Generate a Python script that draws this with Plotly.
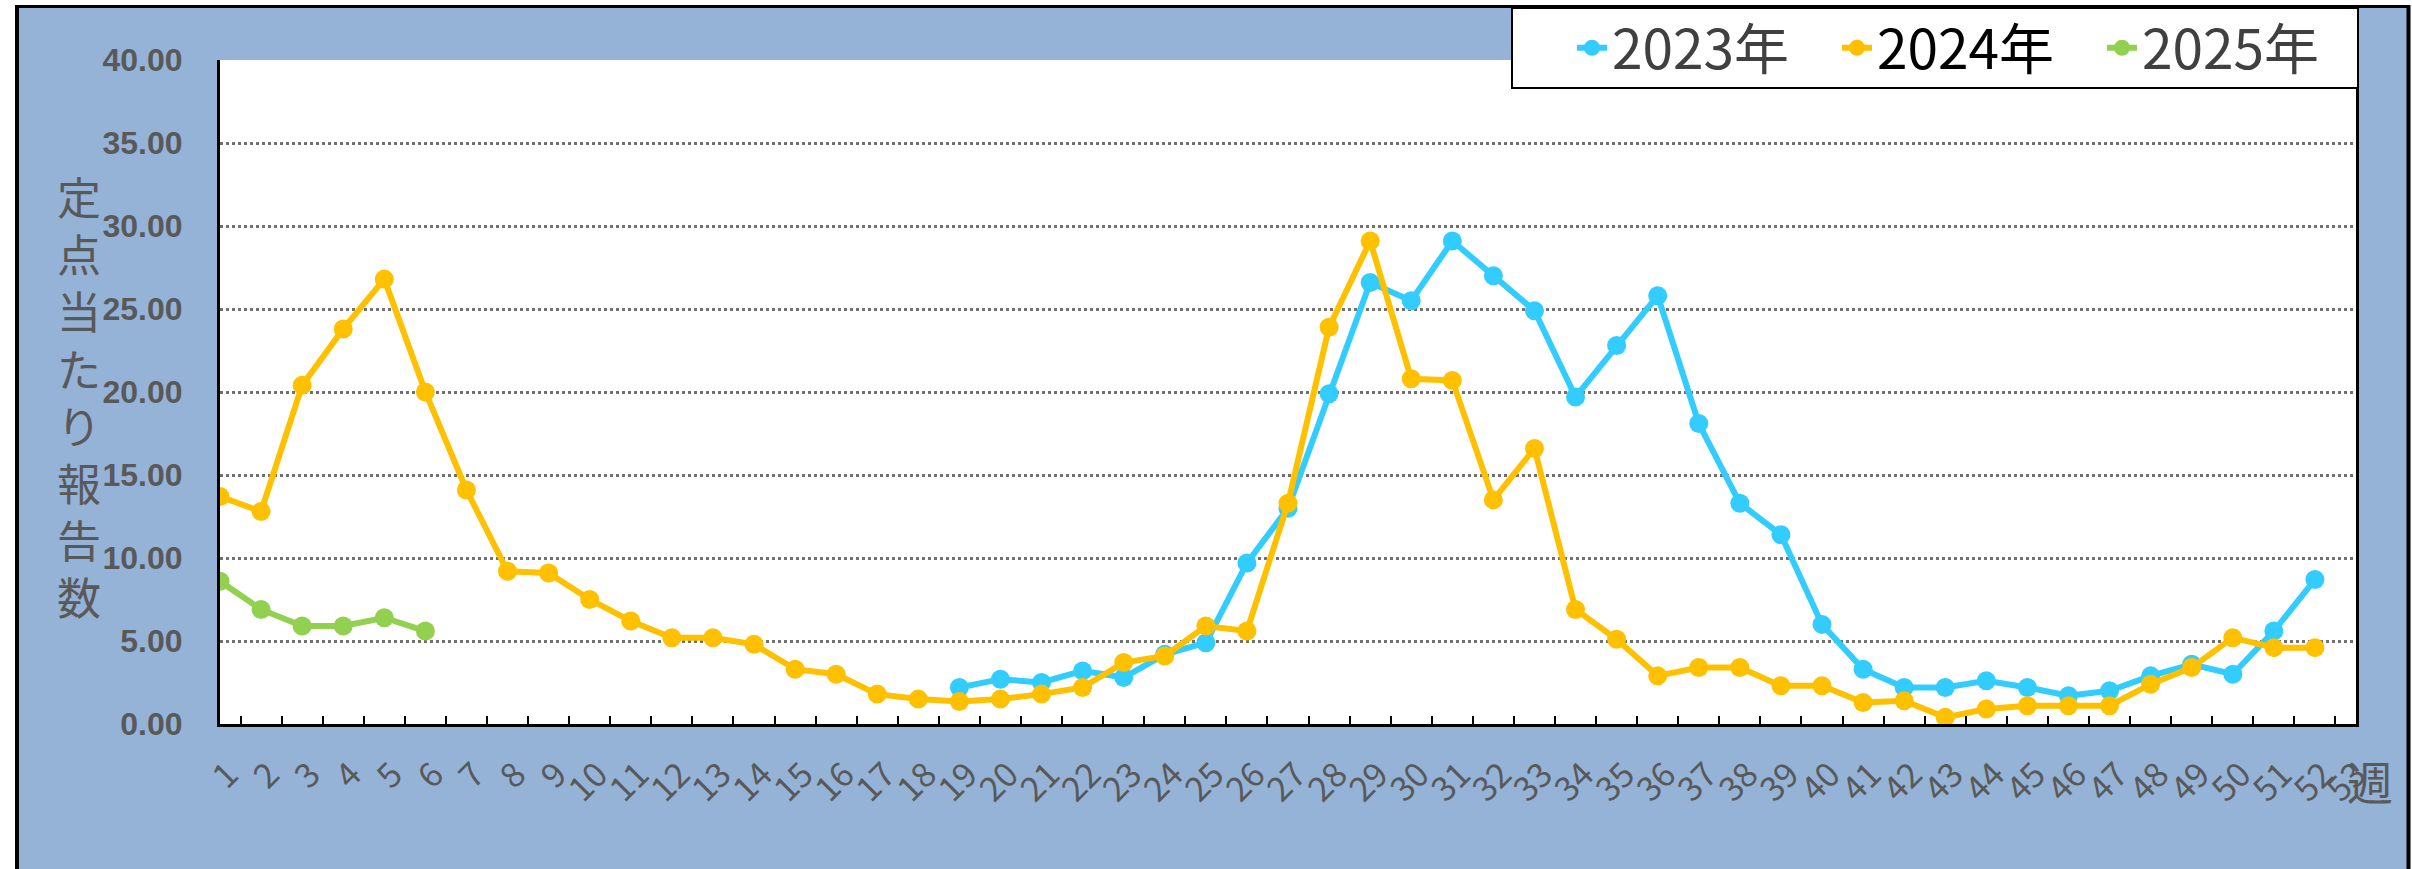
import plotly.graph_objects as go

weeks = list(range(1, 53))
week_labels = [str(i) for i in range(1, 54)]

y2023 = [None] * 18 + [2.2, 2.7, 2.5, 3.2, 2.8, 4.2, 4.9, 9.7, 13.0, 19.9,
                       26.6, 25.5, 29.1, 27.0, 24.9, 19.7, 22.8, 25.8, 18.1, 13.3,
                       11.4, 6.0, 3.3, 2.2, 2.2, 2.6, 2.2, 1.7, 2.0, 2.9,
                       3.6, 3.0, 5.6, 8.7]
y2024 = [13.7, 12.8, 20.4, 23.8, 26.8, 20.0, 14.1, 9.2, 9.1, 7.5,
         6.2, 5.2, 5.2, 4.8, 3.3, 3.0, 1.8, 1.5, 1.35, 1.5,
         1.8, 2.2, 3.7, 4.1, 5.9, 5.6, 13.3, 23.9, 29.1, 20.8,
         20.7, 13.5, 16.6, 6.9, 5.1, 2.9, 3.4, 3.4, 2.3, 2.3,
         1.3, 1.4, 0.4, 0.9, 1.1, 1.1, 1.1, 2.4, 3.4, 5.2, 4.6, 4.6]
y2025 = [8.6, 6.9, 5.9, 5.9, 6.4, 5.6]

series = [
    ("2023年", y2023, "#33CCFF", "#404040"),
    ("2024年", y2024, "#FFC000", "#000000"),
    ("2025年", y2025, "#92D050", "#404040"),
]
y_title = "定点当たり報告数"

W, H = 2412, 869
L, R, T, B = 220, 56, 60, 145
PW, PH = W - L - R, H - T - B


def px(x):
    return (x - L) / PW


def py(y):
    return (H - B - y) / PH


fig = go.Figure()
for name, ys, color, tcol in series:
    fig.add_trace(go.Scatter(
        x=weeks[:len(ys)], y=ys, mode="lines+markers",
        name=f"<span style='color:{tcol}'>{name}</span>",
        line=dict(color=color, width=6),
        marker=dict(color=color, size=19),
        connectgaps=False,
    ))

shapes = [
    # white outside frame
    dict(type="rect", xref="paper", yref="paper", x0=px(-5), x1=px(15), y0=py(-5), y1=py(H + 5),
         fillcolor="white", line=dict(width=0), layer="below"),
    dict(type="rect", xref="paper", yref="paper", x0=px(-5), x1=px(W + 5), y0=py(-5), y1=py(5),
         fillcolor="white", line=dict(width=0), layer="below"),
    dict(type="rect", xref="paper", yref="paper", x0=px(2410), x1=px(W + 5), y0=py(-5), y1=py(H + 5),
         fillcolor="white", line=dict(width=0), layer="below"),
    # black frame
    dict(type="line", xref="paper", yref="paper", x0=px(17), x1=px(17), y0=py(5), y1=py(H + 5),
         line=dict(color="black", width=4)),
    dict(type="line", xref="paper", yref="paper", x0=px(15), x1=px(2410), y0=py(6.5), y1=py(6.5),
         line=dict(color="black", width=3)),
    dict(type="line", xref="paper", yref="paper", x0=px(2408.5), x1=px(2408.5), y0=py(5), y1=py(H + 5),
         line=dict(color="black", width=4)),
    # legend box
    dict(type="rect", xref="paper", yref="paper", x0=px(1512), x1=px(2358), y0=py(88), y1=py(8),
         fillcolor="white", line=dict(color="black", width=2)),
]

annotations = [
    dict(
        text="<br>".join(list(y_title)), xref="paper", yref="paper", x=px(79), y=py(396),
        xanchor="center", yanchor="middle", showarrow=False,
        font=dict(family="Noto Sans CJK JP", size=44, color="#595959"),
    ),
    dict(
        text="週", xref="paper", yref="paper", x=px(2370), y=py(780),
        xanchor="center", yanchor="middle", showarrow=False,
        font=dict(family="Noto Sans CJK JP", size=46, color="#595959"),
    ),
]

label_pos = [w + 0.2 for w in range(1, 53)] + [53]

fig.update_layout(
    width=W, height=H,
    margin=dict(l=L, r=R, t=T, b=B, pad=0, autoexpand=False),
    paper_bgcolor="#95B3D7",
    plot_bgcolor="white",
    shapes=shapes,
    annotations=annotations,
    showlegend=True,
    legend=dict(
        orientation="h", x=px(1572), y=py(48), xanchor="left", yanchor="middle",
        bgcolor="rgba(0,0,0,0)", borderwidth=0,
        font=dict(family="Noto Sans CJK JP", size=55, color="#404040"),
        entrywidth=220, entrywidthmode="pixels",
        itemsizing="trace",
    ),
    xaxis=dict(
        range=[1, 53], tickmode="array", tickvals=label_pos,
        ticktext=week_labels, automargin=False,
        tickangle=-45, ticks="", showgrid=False, zeroline=False,
        showline=True, linecolor="black", linewidth=3,
        tickfont=dict(family="Noto Sans CJK JP", size=34, color="#595959"),
        ticklabelstandoff=14,
        minor=dict(ticks="inside", tickvals=[i + 0.5 for i in range(1, 53)],
                   ticklen=8, tickwidth=2, tickcolor="black", showgrid=False),
    ),
    yaxis=dict(
        range=[0, 40], tickmode="linear", tick0=0, dtick=5, tickformat=".2f",
        ticks="", showgrid=True, gridcolor="#707070", gridwidth=3, griddash="dot",
        zeroline=False, showline=True, linecolor="black", linewidth=3, mirror=True,
        automargin=False,
        tickfont=dict(family="Liberation Sans", size=32, color="#595959", weight="bold"),
        ticklabelstandoff=28,
    ),
)

fig.write_html("out.html", config={"displayModeBar": False},
               post_script="document.body.style.margin='0';")
